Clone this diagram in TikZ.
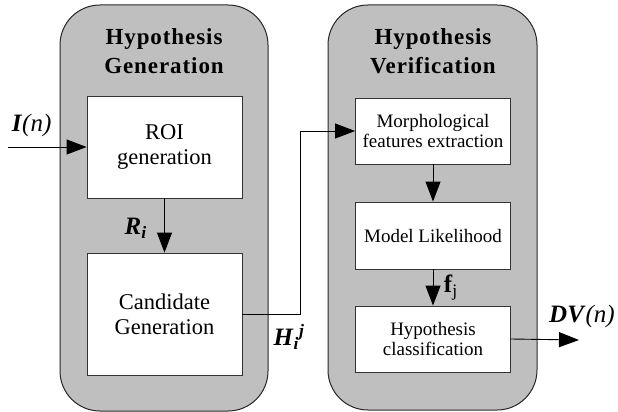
\documentclass[tikz,border=0pt]{standalone}
\usepackage{fontspec}
\setmainfont{LiberationSerif}[Extension=.ttf, UprightFont=*-Regular, BoldFont=*-Bold, ItalicFont=*-Italic, BoldItalicFont=*-BoldItalic]
\usetikzlibrary{arrows.meta}

\begin{document}
\begin{tikzpicture}[x=1pt, y=-1pt, line width=0.9pt,
	>={Triangle[length=20pt,width=15pt]},
	panel/.style={draw=black!85, fill=black!25, rounded corners=40pt, line width=1pt},
	block/.style={draw=black!80, fill=white, minimum width=155pt, align=center, inner sep=0pt},
	big/.style={font=\fontsize{22.5}{25}\selectfont},
	small/.style={font=\fontsize{19}{20}\selectfont},
	title/.style={font=\bfseries\fontsize{23}{29}\selectfont\addfontfeature{LetterSpace=4}, align=center},
	sig/.style={font=\fontsize{25}{26}\selectfont}]
	\useasboundingbox (0,0) rectangle (618,412);
	% the two stages
	\draw[panel] (60,5) rectangle (268,411);
	\draw[panel] (328,5) rectangle (537,410);
	\node[title] (TG) at (164,51) {Hypothesis\\Generation};
	\node[title] (TV) at (433,51) {Hypothesis\\Verification};
	% blocks
	\node[block, big, minimum height=102pt] (ROI) at (164.5,147) {ROI\\generation};
	\node[block, big, minimum height=122pt] (CAND) at (164.5,314) {Candidate\\Generation};
	\node[block, small, minimum height=66pt] (MORPH) at (433,131) {Morphological\\features extraction};
	\node[block, small, minimum height=67pt] (MODEL) at (433,235.5) {Model Likelihood};
	\node[block, small, minimum height=66pt] (HYP) at (433,339) {Hypothesis\\classification};
	\coordinate (IN) at (8,147);
	\coordinate (BEND) at (300,314);
	\coordinate (OUT) at (579,340);
	% connectors
	\draw[->] (IN) to node [pos=0.3, above, sig, yshift=6pt] {\textbf{\textit{I}}\textit{(n)}} (ROI);
	\draw[->] (ROI) to node [left, sig, xshift=-14pt, yshift=-3pt] {\textbf{\textit{R}}\textsubscript{\textbf{\textit{i}}}} (CAND);
	\draw[->] (CAND.east) -- (BEND) |- (MORPH.west);
	\node[sig] (H) at (289,337) {\textbf{\textit{H}}\textsubscript{\textbf{\textit{i}}}\textsuperscript{\textbf{\textit{j}}}};
	\draw[->] (MORPH) to (MODEL);
	\draw[->] (MODEL) to node [right, sig, xshift=7pt] {\textbf{f}\textsubscript{j}} (HYP);
	\draw[->] (HYP.east) to node [pos=1, above, sig, xshift=3pt, yshift=8pt] {\textbf{\textit{DV}}\textit{(n)}} (OUT);
\end{tikzpicture}
\end{document}
